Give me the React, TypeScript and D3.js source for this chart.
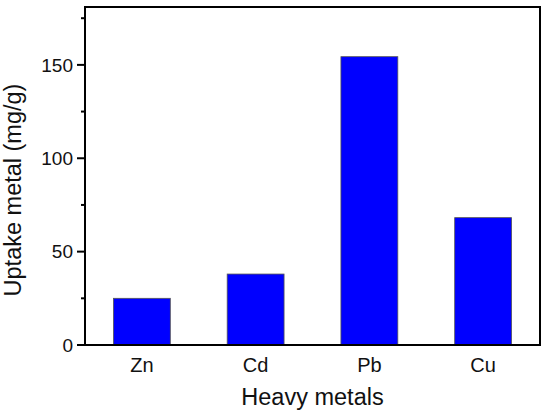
import React, { useEffect } from "react";
import * as d3 from "d3";

const metals = ["Zn", "Cd", "Pb", "Cu"];
const uptake = [25, 38, 154.4, 68.2];
const majorTicks = [0, 50, 100, 150];
const minorTicks = [25, 75, 125, 175];

const W = 550;
const H = 416;
const margin = { top: 7, right: 10, bottom: 71, left: 85 };
const font = "'Liberation Sans', Arial, sans-serif";

export default function App() {
  useEffect(() => {
    document.body.style.margin = "0";
  }, []);

  const innerW = W - margin.left - margin.right;
  const innerH = H - margin.top - margin.bottom;

  const x = d3
    .scaleBand()
    .domain(metals)
    .range([0, innerW])
    .paddingInner(0.5)
    .paddingOuter(0.25);
  const y = d3.scaleLinear().domain([0, 181]).range([innerH, 0]);

  return (
    <svg width={W} height={H} style={{ display: "block", background: "#fff" }}>
      <g transform={`translate(${margin.left},${margin.top})`}>
        {metals.map((m, i) => (
          <rect
            key={m}
            x={x(m)}
            y={y(uptake[i])}
            width={x.bandwidth()}
            height={y(0) - y(uptake[i])}
            fill="#0000ff"
            stroke="#555"
            strokeWidth={0.8}
          />
        ))}
        <rect
          x={0}
          y={0}
          width={innerW}
          height={innerH}
          fill="none"
          stroke="#000"
          strokeWidth={2}
        />
        {majorTicks.map((t) => (
          <g key={t} transform={`translate(0,${y(t)})`}>
            <line x1={-8} x2={0} stroke="#000" strokeWidth={2} />
            <text
              x={-12}
              dy="0.36em"
              textAnchor="end"
              fontFamily={font}
              fontSize={19}
              fill="#111"
            >
              {t}
            </text>
          </g>
        ))}
        {minorTicks.map((t) => (
          <line
            key={t}
            x1={-4}
            x2={0}
            y1={y(t)}
            y2={y(t)}
            stroke="#000"
            strokeWidth={2}
          />
        ))}
        {metals.map((m) => (
          <text
            key={m}
            x={x(m)! + x.bandwidth() / 2}
            y={innerH + 27}
            textAnchor="middle"
            fontFamily={font}
            fontSize={20}
            fill="#111"
          >
            {m}
          </text>
        ))}
        <text
          x={innerW / 2}
          y={innerH + 60}
          textAnchor="middle"
          fontFamily={font}
          fontSize={23.5}
          fill="#111"
        >
          Heavy metals
        </text>
        <text
          transform={`translate(${-64},${183}) rotate(-90)`}
          textAnchor="middle"
          fontFamily={font}
          fontSize={23.5}
          fill="#111"
        >
          Uptake metal (mg/g)
        </text>
      </g>
    </svg>
  );
}
